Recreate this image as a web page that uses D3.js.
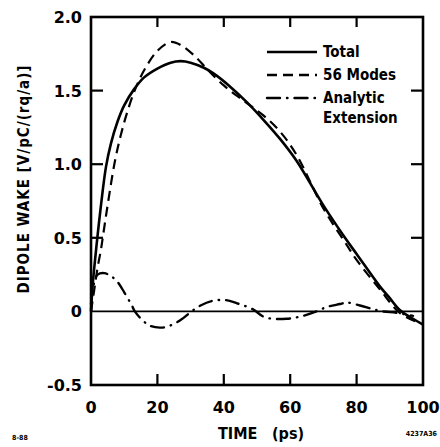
<!DOCTYPE html>
<html>
<head>
<meta charset="utf-8">
<script src="https://cdn.jsdelivr.net/npm/d3@7"></script>
<style>
  body { margin: 0; background: #fff; }
  svg { display: block; }
  .tick-label { font-family: "DejaVu Sans", sans-serif; font-weight: bold; font-size: 16px; }
  .cond { font-family: "DejaVu Sans Condensed", "DejaVu Sans", sans-serif; font-stretch: condensed; font-weight: bold; }
</style>
</head>
<body>
<div id="chart"></div>
<script>
// DATA
const timeTotal  = [0, 0.5, 1, 2, 3, 4.5, 6, 8, 10, 13, 16, 20, 24, 27, 30, 34, 37, 42, 47, 52, 57, 62, 70, 76.5, 80, 87, 90, 93, 97, 100];
const valueTotal = [0, 0.18, 0.3, 0.52, 0.72, 0.98, 1.14, 1.29, 1.4, 1.51, 1.59, 1.65, 1.69, 1.70, 1.69, 1.655, 1.615, 1.525, 1.42, 1.30, 1.17, 1.02, 0.72, 0.5, 0.39, 0.17, 0.09, 0.01, -0.05, -0.09];

const timeModes  = [0, 1, 2, 3, 3.6, 5, 7.2, 9, 11, 13.5, 16.3, 20, 24, 27, 31, 35, 40, 46, 52, 57, 62, 70, 76.5, 80, 87, 93, 98];
const valueModes = [0, 0.15, 0.3, 0.42, 0.51, 0.72, 1.02, 1.2, 1.36, 1.52, 1.65, 1.77, 1.83, 1.81, 1.74, 1.645, 1.535, 1.43, 1.33, 1.22, 1.06, 0.70, 0.47, 0.35, 0.15, -0.01, -0.07];

const timeAnalytic  = [0, 1, 2, 4, 6, 8, 10, 12.3, 13.2, 15.8, 18, 21.3, 24, 27.3, 30.3, 33, 36.3, 40.4, 44, 48.8, 52.4, 58.9, 63.9, 68, 71, 75, 77, 81, 85, 88, 92, 97];
const valueAnalytic = [0.05, 0.2, 0.25, 0.26, 0.24, 0.2, 0.13, 0.04, 0, -0.066, -0.1, -0.11, -0.095, -0.054, 0, 0.04, 0.07, 0.077, 0.055, 0.014, -0.04, -0.05, -0.03, 0, 0.03, 0.05, 0.06, 0.04, 0.015, 0, -0.01, -0.03];

const xTicks = [0, 20, 40, 60, 80, 100];
const yTicks = [-0.5, 0, 0.5, 1.0, 1.5, 2.0];
const yTickLabels = ["-0.5", "0", "0.5", "1.0", "1.5", "2.0"];
const legendLabels = ["Total", "56 Modes", "Analytic", "Extension"];

// 1: SET GLOBAL VARIABLES
const margin = { top: 17, right: 17, bottom: 62, left: 91 };
const width = 440 - margin.left - margin.right;
const height = 447 - margin.top - margin.bottom;

const svg = d3.select("#chart")
    .append("svg")
    .attr("width", 440)
    .attr("height", 447);

const g = svg.append("g")
    .attr("transform", `translate(${margin.left},${margin.top})`);

// 2: SCALES
const x = d3.scaleLinear().domain([0, 100]).range([0, width]);
const y = d3.scaleLinear().domain([-0.5, 2.0]).range([height, 0]);

const zip = (ts, vs) => ts.map((t, i) => ({ t, v: vs[i] }));

const line = d3.line()
    .x(d => x(d.t))
    .y(d => y(d.v))
    .curve(d3.curveCatmullRom.alpha(0.5));

// 3: ZERO LINE
g.append("line")
    .attr("x1", x(0)).attr("x2", x(100))
    .attr("y1", y(0)).attr("y2", y(0))
    .attr("stroke", "#000")
    .attr("stroke-width", 1.8);

// 4: CURVES
g.append("path")
    .datum(zip(timeTotal, valueTotal))
    .attr("d", line)
    .attr("fill", "none")
    .attr("stroke", "#000")
    .attr("stroke-width", 2.6);

g.append("path")
    .datum(zip(timeModes, valueModes))
    .attr("d", line)
    .attr("fill", "none")
    .attr("stroke", "#000")
    .attr("stroke-width", 2.2)
    .attr("stroke-dasharray", "10,6");

g.append("path")
    .datum(zip(timeAnalytic, valueAnalytic))
    .attr("d", line)
    .attr("fill", "none")
    .attr("stroke", "#000")
    .attr("stroke-width", 2.4)
    .attr("stroke-linecap", "round")
    .attr("stroke-dasharray", "13,7,0.5,7");

// 5: FRAME AND TICKS
g.append("rect")
    .attr("x", 0).attr("y", 0)
    .attr("width", width).attr("height", height)
    .attr("fill", "none")
    .attr("stroke", "#000")
    .attr("stroke-width", 2.6);

const inner = [20, 40, 60, 80];
inner.forEach(t => {
    g.append("line").attr("x1", x(t)).attr("x2", x(t)).attr("y1", height).attr("y2", height - 11)
        .attr("stroke", "#000").attr("stroke-width", 2.2);
    g.append("line").attr("x1", x(t)).attr("x2", x(t)).attr("y1", 0).attr("y2", 10)
        .attr("stroke", "#000").attr("stroke-width", 2.2);
});
[0.5, 1.0, 1.5].forEach(v => {
    g.append("line").attr("x1", 0).attr("x2", 12).attr("y1", y(v)).attr("y2", y(v))
        .attr("stroke", "#000").attr("stroke-width", 2.2);
    g.append("line").attr("x1", width).attr("x2", width - 12).attr("y1", y(v)).attr("y2", y(v))
        .attr("stroke", "#000").attr("stroke-width", 2.2);
});

// 6: TICK LABELS
g.selectAll(".xlab")
    .data(xTicks)
    .enter().append("text")
    .attr("class", "tick-label")
    .attr("x", d => x(d))
    .attr("y", height + 28)
    .attr("text-anchor", "middle")
    .text(d => d);

g.selectAll(".ylab")
    .data(yTicks)
    .enter().append("text")
    .attr("class", "tick-label")
    .attr("x", -9)
    .attr("y", d => y(d) + 6)
    .attr("text-anchor", "end")
    .text((d, i) => yTickLabels[i]);

// 7: AXIS TITLES
svg.append("text")
    .attr("class", "cond")
    .attr("x", 218)
    .attr("y", 439)
    .style("font-size", "16px")
    .text("TIME");
svg.append("text")
    .attr("class", "cond")
    .attr("x", 272)
    .attr("y", 439)
    .style("font-size", "16px")
    .text("(ps)");

svg.append("text")
    .attr("class", "cond")
    .attr("transform", "translate(29,179) rotate(-90)")
    .attr("text-anchor", "middle")
    .style("font-size", "15px")
    .style("letter-spacing", "1px")
    .text("DIPOLE WAKE  [V/pC/(rq/a)]");

// corner marks
svg.append("text").attr("class", "cond").attr("x", 12).attr("y", 440)
    .style("font-size", "7px").text("8-88");
svg.append("text").attr("class", "cond").attr("x", 437).attr("y", 436)
    .attr("text-anchor", "end").style("font-size", "7px").text("4237A36");

// 8: LEGEND
const legend = svg.append("g").attr("transform", "translate(267,52)");
const legendDash = [null, "10,6", "13,7,0.5,7"];
legendDash.forEach((dash, i) => {
    const ln = legend.append("line")
        .attr("x1", 0).attr("x2", 50)
        .attr("y1", i * 23).attr("y2", i * 23)
        .attr("stroke", "#000")
        .attr("stroke-width", 2.4)
        .attr("stroke-linecap", i === 2 ? "round" : "butt");
    if (dash) ln.attr("stroke-dasharray", dash);
});
legend.selectAll(".leg")
    .data(legendLabels)
    .enter().append("text")
    .attr("class", "cond")
    .attr("x", 56)
    .attr("y", (d, i) => [0, 23, 46, 66][i] + 5)
    .style("font-size", "15px")
    .text(d => d);
</script>
</body>
</html>
